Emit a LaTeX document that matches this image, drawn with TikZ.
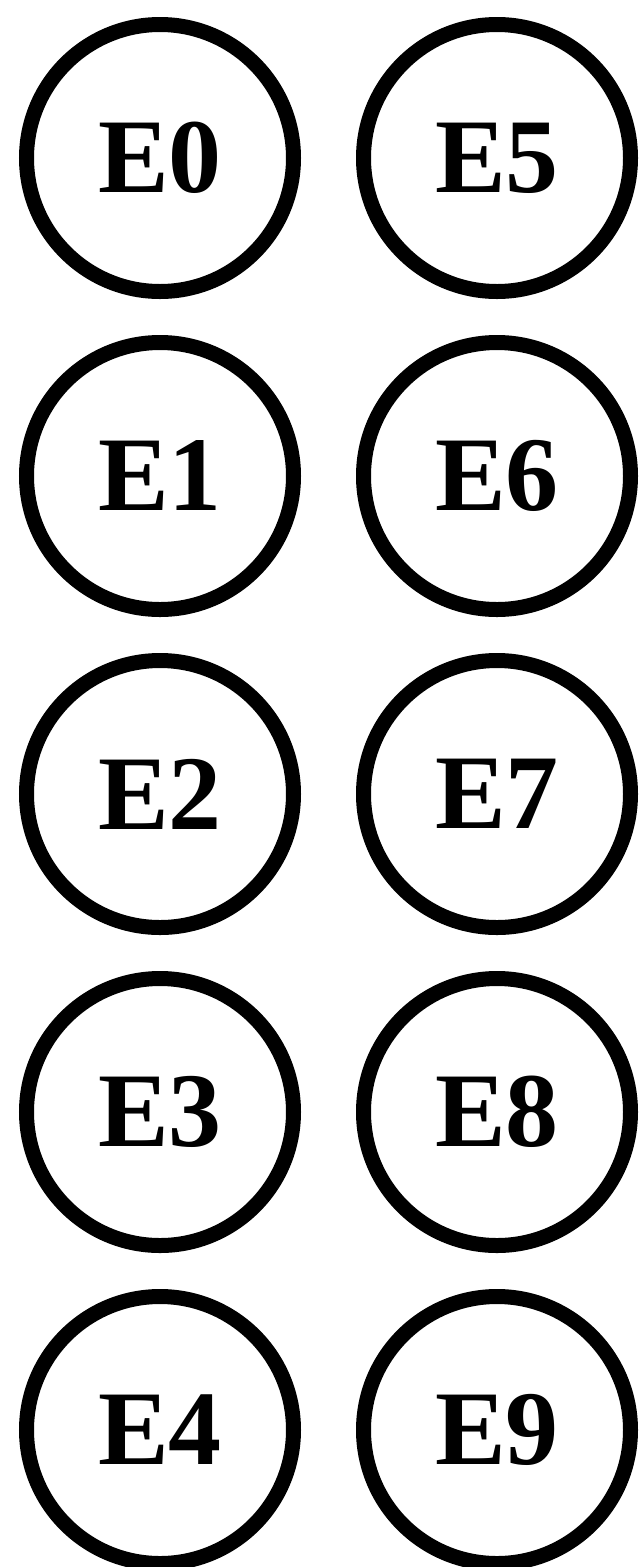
\documentclass[tikz,border=0pt]{standalone}
\usepackage{fontspec}
\setmainfont{Liberation Serif}
\usetikzlibrary{positioning}

\begin{document}
\begin{tikzpicture}[
  x=1pt, y=1pt,
  evt/.style={draw=black, circle, line width=15pt, minimum size=267pt,
              inner sep=0pt, fill=white,
              font=\fontsize{106}{110}\selectfont\bfseries},
]
\useasboundingbox (0,0) rectangle (642,-1567);
% ---- left column ----
\node[evt] (e0) at (160, -158)  {E0};
\node[evt] (e1) at (160, -476)  {E1};
\node[evt] (e2) at (160, -794)  {E2};
\node[evt] (e3) at (160, -1112) {E3};
\node[evt] (e4) at (160, -1430) {E4};
% ---- right column ----
\node[evt] (e5) at (497, -158)  {E5};
\node[evt] (e6) at (497, -476)  {E6};
\node[evt] (e7) at (497, -794)  {E7};
\node[evt] (e8) at (497, -1112) {E8};
\node[evt] (e9) at (497, -1430) {E9};
\end{tikzpicture}
\end{document}
